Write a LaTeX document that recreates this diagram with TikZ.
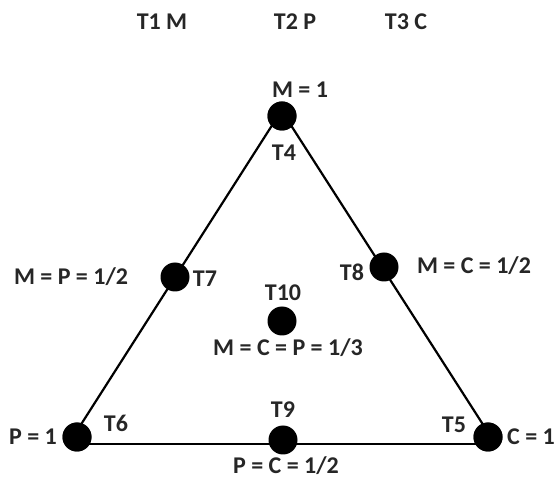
\documentclass[tikz,border=0pt]{standalone}
\usepackage{fontspec}
\setmainfont{Carlito}
\begin{document}
\begin{tikzpicture}[x=1pt,y=-1pt,
  dot/.style={circle,fill=black,inner sep=0pt,minimum size=29pt},
  lbl/.style={font=\bfseries\fontsize{24}{26}\selectfont,inner sep=0pt,text=black!85},
  edge/.style={line width=2.2pt}]
\useasboundingbox (0,0) rectangle (558,481);
% corner vertices
\node[dot] (T4) at (282,116) {};
\node[dot] (T6) at (77,437) {};
\node[dot] (T5) at (488,437) {};
% edges
\draw[edge] ([xshift=-4pt]T4.center) -- ([xshift=-4pt]T6.center);
\draw[edge] ([xshift=3pt]T4.center) -- ([xshift=3pt]T5.center);
\draw[edge] ([yshift=-7pt]T6.center) -- ([yshift=-7pt]T5.center);
\node[dot] (T4b) at (282,116) {};
\node[dot] (T6b) at (77,437) {};
\node[dot] (T5b) at (488,437) {};
% midpoints
\node[dot] (T7) at (175,277) {};
\node[dot] (T8) at (384,267) {};
\node[dot] (T9) at (283,440) {};
\node[dot] (T10) at (282,321) {};
% header
\node[lbl] (h1) at (162,22) {T1 M};
\node[lbl] (h2) at (295,22) {T2 P};
\node[lbl] (h3) at (406,22) {T3 C};
% labels
\node[lbl] (l4a) at (300,90) {M = 1};
\node[lbl] (l4b) at (284,153) {T4};
\node[lbl] (l7a) at (71,277) {M = P = 1/2};
\node[lbl] (l7b) at (205,279) {T7};
\node[lbl] (l8a) at (352,272) {T8};
\node[lbl] (l8b) at (474,266) {M = C = 1/2};
\node[lbl] (l10a) at (283,293) {T10};
\node[lbl] (l10b) at (288,348) {M = C = P = 1/3};
\node[lbl] (l6a) at (33,437) {P = 1};
\node[lbl] (l6b) at (116,423) {T6};
\node[lbl] (l9a) at (283,410) {T9};
\node[lbl] (l9b) at (286,466) {P = C = 1/2};
\node[lbl] (l5a) at (454,425) {T5};
\node[lbl] (l5b) at (531,437) {C = 1};
\end{tikzpicture}
\end{document}
